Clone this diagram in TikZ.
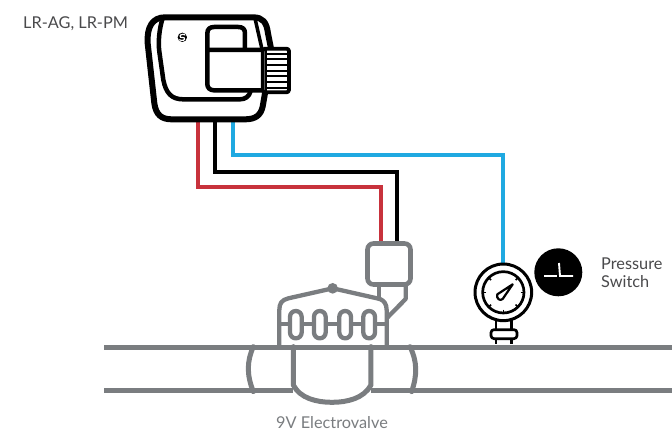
\documentclass[tikz,border=0pt]{standalone}
\usepackage{fontspec}
\setmainfont{Lato}
\definecolor{pipegray}{HTML}{7A7D80}
\definecolor{labelgray}{HTML}{4A4A4C}
\definecolor{wirered}{HTML}{C8323C}
\definecolor{wireblue}{HTML}{1FA9E1}
\tikzset{
  wire/.style={line width=4.4pt,line join=miter},
  valveline/.style={draw=pipegray,line width=5pt,line join=round,line cap=round},
  valvethin/.style={draw=pipegray,line width=4.3pt,line join=round,line cap=round},
  devline/.style={draw=black,line width=5pt,line join=round,line cap=round},
  gaugeline/.style={draw=black,line width=2.7pt,line join=round},
  lbl/.style={inner sep=0pt,text=labelgray,font=\fontsize{16.3}{19}\selectfont}
}
\begin{document}
\begin{tikzpicture}[x=1pt,y=-1pt]
\useasboundingbox (0,0) rectangle (672,431);
\fill[white] (0,0) rectangle (672,431);

% named wire ends and bends
\coordinate (ctrlR) at (198,118);
\coordinate (ctrlK) at (215,118);
\coordinate (ctrlB) at (233,118);
\coordinate (boxR) at (381,245);
\coordinate (boxK) at (397,245);
\coordinate (gaugeTop) at (503,266);
\coordinate (bendR) at (198,187);
\coordinate (bendK) at (215,172);
\coordinate (bendB) at (233,155);

% wires
\draw[wire,wirered] (ctrlR) -- (bendR) -| (boxR);
\draw[wire,black] (ctrlK) -- (bendK) -| (boxK);
\draw[wire,wireblue] (ctrlB) -- (bendB) -| (gaugeTop);

% controller (coordinates of the 3x crop)
\begin{scope}[shift={(130,5)},x=0.3333pt,y=-0.3333pt]
  \filldraw[devline,line width=6pt,fill=white] (105,37) -- (370,37)
     .. controls (398,37) and (410,52) .. (414,85)
     -- (424,135) -- (405,265) -- (398,305)
     .. controls (392,332) and (375,343) .. (345,343)
     -- (125,343)
     .. controls (95,343) and (78,330) .. (73,295)
     -- (53,115)
     .. controls (50,65) and (68,37) .. (105,37) -- cycle;
  \draw[devline,line width=4.5pt] (98,40) .. controls (88,70) and (84,110) .. (88,140)
     -- (100,225) .. controls (108,265) and (125,283) .. (160,283)
     -- (330,283) .. controls (345,283) and (358,275) .. (362,258);
  \draw[devline,line width=3.5pt] (375,40) -- (395,128);
  \filldraw[devline,line width=4.5pt,fill=white] (232,135) -- (232,85)
     .. controls (232,72) and (240,66) .. (252,66) -- (325,66)
     .. controls (338,66) and (345,72) .. (345,85) -- (345,135);
  \filldraw[devline,line width=4.5pt,fill=white] (232,135) -- (400,135) -- (400,256) -- (252,256)
     .. controls (240,256) and (232,248) .. (232,238) -- cycle;
  \filldraw[devline,line width=3.8pt,fill=white,rounded corners=2.5pt] (398,131) rectangle (477,262);
  \foreach \ribY in {146,163,180,197,214,231,248}
    \draw[black,line width=1.7pt] (408,\ribY) -- (470,\ribY);
  \draw[black,line width=2pt] (407,135) -- (407,258);
  \fill[black] (157,97) circle (14);
  \draw[white,line width=1.2pt] (166,90) .. controls (156,84) and (146,92) .. (152,97)
     -- (162,98) .. controls (168,104) and (158,110) .. (148,104);
\end{scope}

% valve (coordinates of the 3x crop)
\begin{scope}[shift={(240,230)},x=0.3333pt,y=-0.3333pt]
  \draw[valvethin] (118,345) -- (118,240)
     .. controls (118,220) and (125,210) .. (145,205)
     -- (265,178);
  \fill[pipegray] (278,175) circle (16);
  \draw[valvethin] (292,178) -- (420,207)
     .. controls (432,212) and (440,222) .. (440,240) -- (440,345);
  \draw[valvethin] (118,283) -- (440,283);
  \foreach \ovX in {150,222,298,370}
    \filldraw[valvethin,fill=white,rounded corners=5.8pt] (\ovX,243) rectangle ++(35,82);
  \draw[valvethin] (417,165) -- (417,207);
  \draw[valvethin] (497,165) -- (497,207) -- (443,262);
  \draw[valveline] (160,350) -- (160,465)
     .. controls (180,505) and (230,517) .. (276,517)
     .. controls (322,517) and (372,505) .. (393,465) -- (393,350);
  \draw[valveline] (40,350) .. controls (20,395) and (20,435) .. (40,485);
  \draw[valveline] (510,350) .. controls (532,395) and (532,435) .. (515,485);
\end{scope}
\node[draw=pipegray,line width=4.6pt,fill=white,rounded corners=6pt,minimum width=43pt,minimum height=41pt,inner sep=0pt] (valvebox) at (389,264) {};

% pipes
\coordinate (pipeAL) at (104,347);
\coordinate (pipeAR) at (672,347);
\coordinate (pipeBL) at (104,390);
\coordinate (pipeBM1) at (293,390);
\coordinate (pipeBM2) at (371,390);
\coordinate (pipeBR) at (672,390);
\draw[draw=pipegray,line width=5pt] (pipeAL) -- (pipeAR);
\draw[draw=pipegray,line width=5pt] (pipeBL) -- (pipeBM1);
\draw[draw=pipegray,line width=5pt] (pipeBM2) -- (pipeBR);

% gauge (coordinates of the 3x crop)
\begin{scope}[shift={(460,235)},x=0.3333pt,y=-0.3333pt]
  \draw[gaugeline] (108,255) -- (108,283);
  \draw[gaugeline] (155,255) -- (155,283);
  \draw[gaugeline] (108,312) -- (108,328);
  \draw[gaugeline] (155,312) -- (155,328);
  \draw[gaugeline,rounded corners=3pt] (93,284) rectangle (171,311);
  \draw[gaugeline,line width=3pt,fill=white] (130,172) circle (85);
  \draw[gaugeline] (130,172) circle (62);
  \foreach \tickA in {-225,-180,-135,-90,-45,0,45}
    \draw[black,line width=1.6pt] (130,172) ++(\tickA:-52) -- ++(\tickA:-10);
  \draw[gaugeline,line width=2.2pt,line join=round] (158,148) -- (128,192)
     .. controls (120,200) and (108,190) .. (112,178) -- cycle;
\end{scope}

% pressure switch badge
\node[circle,fill=black,minimum size=48pt,inner sep=0pt] (badge) at (558.3,272.3) {};
\coordinate (symA) at (544,276);
\coordinate (symB) at (557,276);
\coordinate (symC) at (559,263);
\coordinate (symD) at (560,276);
\coordinate (symE) at (573,276);
\draw[white,line width=1.9pt] (symA) -- (symB);
\draw[white,line width=1.9pt] (symC) -- (symD) -- (symE);

% labels
\node[lbl,anchor=west] (ctrlLabel) at (23,24) {LR-AG, LR-PM};
\node[lbl,anchor=west] (pressLabel) at (601,264) {Pressure};
\node[lbl,anchor=west] (switchLabel) at (601,282) {Switch};
\node[lbl,anchor=center,text=pipegray] (valveLabel) at (332,422.5) {9V Electrovalve};
\end{tikzpicture}
\end{document}
